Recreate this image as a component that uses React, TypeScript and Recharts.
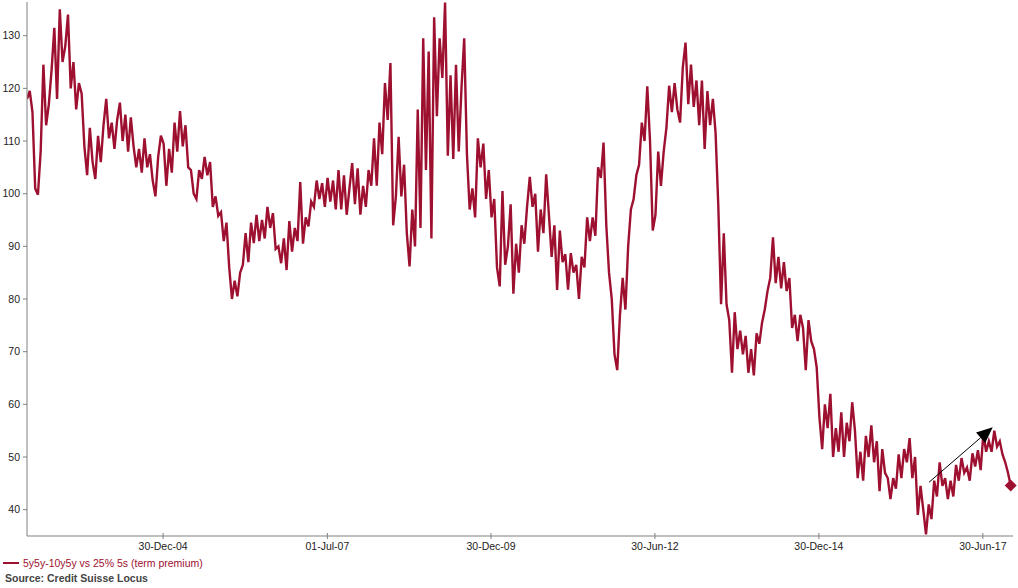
import { LineChart, Line, XAxis, YAxis, ReferenceLine, ReferenceDot } from "recharts";

// semi-monthly observations, first one early Dec 2002 (decimal years)
const startYear = 2002.92;
const obsPerYear = 24;

// 5y5y-10y5y vs 25% 5s (term premium)
const termPremium = [
    118, 119.5, 115.5, 101, 99.8, 108, 124.5, 113, 117, 123.5,
    131.5, 118, 135, 125, 128, 134, 120, 125, 116, 121,
    119, 109, 103.5, 112.5, 106, 102.8, 111, 106, 113, 118,
    110.5, 113.5, 108.5, 114, 117.3, 110, 115, 108, 114.5, 109,
    105, 108.5, 104, 110.5, 105, 107.5, 102.5, 99.5, 107, 111,
    109.5, 101.5, 108.5, 104, 113.5, 108, 115.7, 109, 113, 105,
    104.5, 100, 99, 104.5, 102.8, 107, 103.5, 106, 97.5, 99.5,
    95.8, 96.5, 91, 94.5, 86, 80, 83.5, 80.5, 85, 86.5,
    92.5, 87, 94.5, 90.6, 96, 91, 95, 91.5, 97.5, 93.5,
    96.3, 89.5, 90, 86.8, 91.5, 85.5, 94.8, 89, 93.5, 91,
    102.2, 90.5, 95.5, 93.8, 98.5, 97.5, 102.5, 99, 102, 97.5,
    103, 98.5, 102.5, 97, 104.5, 97, 103.5, 96, 101, 105.8,
    98, 104.8, 96, 101.5, 97.5, 104.5, 101.5, 110.5, 101.5, 113.5,
    107.5, 121, 114, 124.8, 94, 99.5, 110.8, 99.5, 105.5, 92.5,
    86.2, 97, 90, 116, 93.5, 129.5, 104.5, 127, 91.5, 133.5,
    114.7, 129.5, 122, 136.3, 107.2, 122.5, 106.6, 124.5, 108, 120,
    129.5, 107.5, 97, 101, 95.5, 110.5, 105, 109.5, 99, 104.5,
    95.5, 99, 86, 82.4, 100.5, 86.5, 90, 98, 81, 90.5,
    85, 94, 90.5, 97.5, 103.2, 97.5, 100, 89, 97, 92.5,
    103.7, 96, 88, 94, 81.7, 93, 87, 88.5, 81.8, 88.7,
    85, 86.5, 80, 88, 86, 95.5, 91, 95.5, 92, 105,
    103, 109.7, 94, 85, 80, 69.5, 66.5, 77, 84, 78,
    90, 97, 99, 103.5, 105.5, 113.5, 110, 120.4, 110, 93,
    96, 108, 101.5, 108, 112.5, 120.5, 115.5, 121, 116, 113.5,
    124, 128.7, 117, 124.5, 116.5, 121.5, 113, 121.5, 108.5, 119.5,
    113, 118, 111.5, 97.5, 79, 92.5, 79, 76, 66, 77.5,
    70.5, 74, 69.5, 73, 66, 70.5, 65.5, 73.5, 71.5, 75.5,
    78, 81.5, 84, 91.7, 83, 88, 82, 87, 81.5, 84,
    74.5, 77, 72, 77, 74.5, 66.5, 76, 72, 70.5, 67,
    57.5, 51.5, 60, 55.5, 62, 50, 55.5, 51, 58.5, 50,
    56.5, 53, 60.4, 55, 46, 51, 45.5, 54, 50, 56,
    49, 53, 43.5, 51.5, 47, 46, 42, 46, 44, 50.5,
    46, 51.5, 49, 53.6, 46, 50, 39, 44.5, 40, 35.3,
    41, 38.2, 45.5, 42.5, 49, 44.5, 46, 42, 45.5, 42.5,
    48.5, 45.5, 49.8, 47, 48, 45.5, 50.7, 48.2, 51.3, 47.5,
    54.5, 51, 53, 51, 55, 52, 53, 50.5, 49, 47,
    44.6,
];

const xTickYears = [2004.995, 2007.5, 2009.995, 2012.495, 2014.995, 2017.495];
const xTickLabels = ["30-Dec-04", "01-Jul-07", "30-Dec-09", "30-Jun-12", "30-Dec-14", "30-Jun-17"];
const yTicks = [40, 50, 60, 70, 80, 90, 100, 110, 120, 130];

// hand-drawn arrow on the chart: [year, value]
const arrowFrom = [2016.674, 45.2];
const arrowTo = [2017.646, 55.65];

const RED = "#9E1030";
const AXIS = "#808080";
const FONT = "'Liberation Sans', Arial, sans-serif";

const data = termPremium.map((v, i) => ({ t: startYear + i / obsPerYear, v }));
const last = data[data.length - 1];

function XTick(props: any) {
    const { x, y, payload } = props;
    const axisY = y - 7;
    const idx = xTickYears.indexOf(payload.value);
    return (
        <g>
            <line x1={x} x2={x} y1={axisY - 3} y2={axisY + 3} stroke={AXIS} />
            <text x={x} y={y} dy="0.71em" textAnchor="middle" fontSize={10.5} fill="#222" fontFamily={FONT}>
                {xTickLabels[idx] ?? ""}
            </text>
        </g>
    );
}

function renderArrow(props: any) {
    const { x1, y1, x2, y2 } = props;
    if (x1 == null) return <g />;
    const dx = x2 - x1;
    const dy = y2 - y1;
    const len = Math.sqrt(dx * dx + dy * dy);
    const ux = dx / len;
    const uy = dy / len;
    const bx = x2 - ux * 16;
    const by = y2 - uy * 16;
    const px = -uy * 7;
    const py = ux * 7;
    return (
        <g>
            <line x1={x1} y1={y1} x2={bx} y2={by} stroke="#000" strokeWidth={1} />
            <polygon points={`${x2},${y2} ${bx + px},${by + py} ${bx - px},${by - py}`} fill="#000" />
        </g>
    );
}

function renderDiamond(props: any) {
    const { cx, cy } = props;
    return <polygon points={`${cx},${cy - 6} ${cx + 6},${cy} ${cx},${cy + 6} ${cx - 6},${cy}`} fill={RED} />;
}

export default function App() {
    return (
        <div style={{ position: "absolute", left: 0, top: 0, width: 1018, height: 588, background: "#fff", fontFamily: FONT }}>
            <LineChart width={1018} height={556} data={data} margin={{ top: 2, right: 5, left: 0, bottom: 0 }}>
                <XAxis
                    dataKey="t"
                    type="number"
                    domain={[2002.92, 2017.955]}
                    ticks={xTickYears}
                    tick={<XTick />}
                    tickLine={false}
                    tickSize={3}
                    tickMargin={4}
                    height={20}
                    axisLine={{ stroke: AXIS }}
                    allowDataOverflow
                />
                <YAxis
                    type="number"
                    domain={[35, 136.4]}
                    ticks={yTicks}
                    width={27}
                    tickSize={4}
                    tickMargin={3}
                    axisLine={{ stroke: AXIS }}
                    tickLine={{ stroke: AXIS }}
                    tick={{ fontSize: 10.5, fill: "#222", fontFamily: FONT }}
                    allowDataOverflow
                />
                <Line
                    type="linear"
                    dataKey="v"
                    stroke={RED}
                    strokeWidth={2.4}
                    strokeLinejoin="miter"
                    dot={false}
                    isAnimationActive={false}
                />
                <ReferenceLine
                    segment={[{ x: arrowFrom[0], y: arrowFrom[1] }, { x: arrowTo[0], y: arrowTo[1] }]}
                    shape={renderArrow}
                />
                <ReferenceDot x={last.t} y={last.v} r={6} shape={renderDiamond} />
            </LineChart>
            <div style={{ position: "absolute", left: 3, top: 562, width: 16, height: 2, background: RED }} />
            <div style={{ position: "absolute", left: 23, top: 557, fontSize: 10.5, lineHeight: "12px", color: RED, whiteSpace: "nowrap" }}>
                5y5y-10y5y vs 25% 5s (term premium)
            </div>
            <div style={{ position: "absolute", left: 5, top: 572, fontSize: 10.5, lineHeight: "12px", color: "#444", fontWeight: "bold", whiteSpace: "nowrap" }}>
                Source: Credit Suisse Locus
            </div>
        </div>
    );
}
